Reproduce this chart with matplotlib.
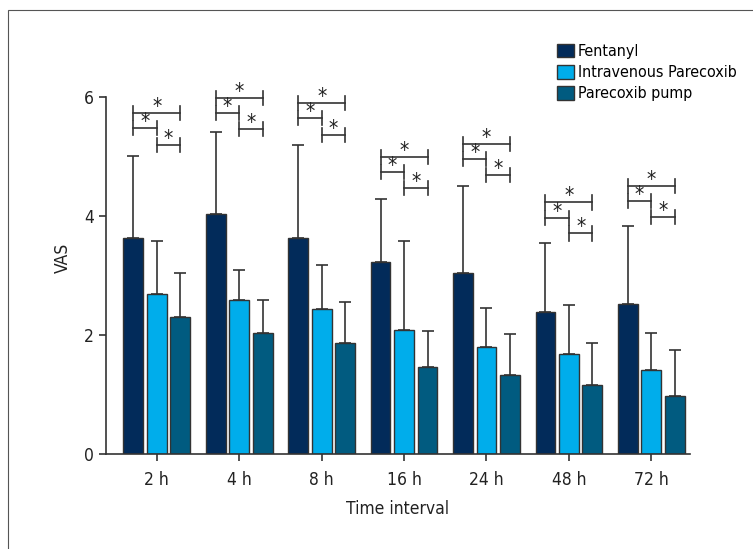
import matplotlib.pyplot as plt
from matplotlib.patches import Rectangle, Patch

# data
times = ["2 h", "4 h", "8 h", "16 h", "24 h", "48 h", "72 h"]
groups = ["Fentanyl", "Intravenous Parecoxib", "Parecoxib pump"]
fentanyl = [3.63, 4.04, 3.63, 3.23, 3.05, 2.39, 2.52]
fentanyl_sd = [1.38, 1.37, 1.57, 1.05, 1.46, 1.15, 1.32]
iv_parecoxib = [2.69, 2.59, 2.43, 2.08, 1.80, 1.68, 1.42]
iv_parecoxib_sd = [0.90, 0.50, 0.75, 1.51, 0.66, 0.82, 0.62]
pump = [2.31, 2.03, 1.87, 1.47, 1.33, 1.16, 0.97]
pump_sd = [0.74, 0.56, 0.69, 0.60, 0.68, 0.71, 0.78]
# significance bracket heights: F vs pump, F vs IV, IV vs pump
sig_top = [5.73, 5.99, 5.90, 4.99, 5.21, 4.23, 4.51]
sig_mid = [5.48, 5.73, 5.65, 4.74, 4.96, 3.97, 4.25]
sig_low = [5.20, 5.46, 5.37, 4.47, 4.69, 3.71, 3.98]

colors = ["#022b5a", "#00adeb", "#015b80"]
ink = "#333333"

plt.rcParams["font.family"] = ["DejaVu Sans"]
plt.rcParams["font.stretch"] = "condensed"

fig = plt.figure(figsize=(7.53, 5.49), dpi=100)
ax = fig.add_axes([0.1404, 0.173, 0.776, 0.715])

step = 0.285
width = 0.24
series = [(fentanyl, fentanyl_sd), (iv_parecoxib, iv_parecoxib_sd), (pump, pump_sd)]
for k, (vals, sds) in enumerate(series):
    xs = [i + (k - 1) * step for i in range(len(times))]
    ax.bar(xs, vals, width, color=colors[k], edgecolor=ink, linewidth=1, zorder=2)
    ax.errorbar(xs, vals, yerr=[[0] * len(sds), sds], fmt="none", ecolor=ink,
                elinewidth=1.2, capsize=4, capthick=1.2, zorder=1)

tick = 0.12


def bracket(x1, x2, y):
    ax.plot([x1, x2], [y, y], color=ink, lw=1.2)
    for xe in (x1, x2):
        ax.plot([xe, xe], [y - tick, y + tick], color=ink, lw=1.2)
    ax.text((x1 + x2) / 2, y + 0.0, "*", ha="center", va="baseline",
            fontsize=15, color="#222222")


for i in range(len(times)):
    xf, xi, xp = i - step, i, i + step
    bracket(xf, xp, sig_top[i])
    bracket(xf, xi, sig_mid[i])
    bracket(xi, xp, sig_low[i])

ax.set_xlim(-0.62, 6.47)
ax.set_ylim(0, 6.6)
ax.set_yticks([0, 2, 4, 6])
ax.set_xticks(range(len(times)))
ax.set_xticklabels(times)
ax.spines["left"].set_bounds(0, 6)
for s in ("top", "right"):
    ax.spines[s].set_visible(False)
for s in ("left", "bottom"):
    ax.spines[s].set_color(ink)
    ax.spines[s].set_linewidth(1.2)
ax.tick_params(axis="both", colors=ink, labelcolor="#222222", labelsize=12.5,
               length=5, width=1.2)
ax.tick_params(axis="x", pad=7)
ax.set_ylabel("VAS", fontsize=12.5, color="#222222", labelpad=9)
ax.set_xlabel("Time interval", fontsize=12.5, color="#222222", labelpad=8)

handles = [Patch(facecolor=c, edgecolor=ink, linewidth=1) for c in colors]
fig.legend(handles, groups, loc="upper left", bbox_to_anchor=(0.731, 0.932),
           frameon=False, fontsize=11.5, handlelength=1.05, handleheight=0.95,
           handletextpad=0.25, labelspacing=0.36, borderaxespad=0)

# outer frame of the figure panel
fig.patches.append(Rectangle((8 / 753, -0.1), 1.2, 1.1 - 10 / 549,
                             transform=fig.transFigure, fill=False,
                             edgecolor="#555555", linewidth=0.8))

fig.savefig("out.png", dpi=100)
